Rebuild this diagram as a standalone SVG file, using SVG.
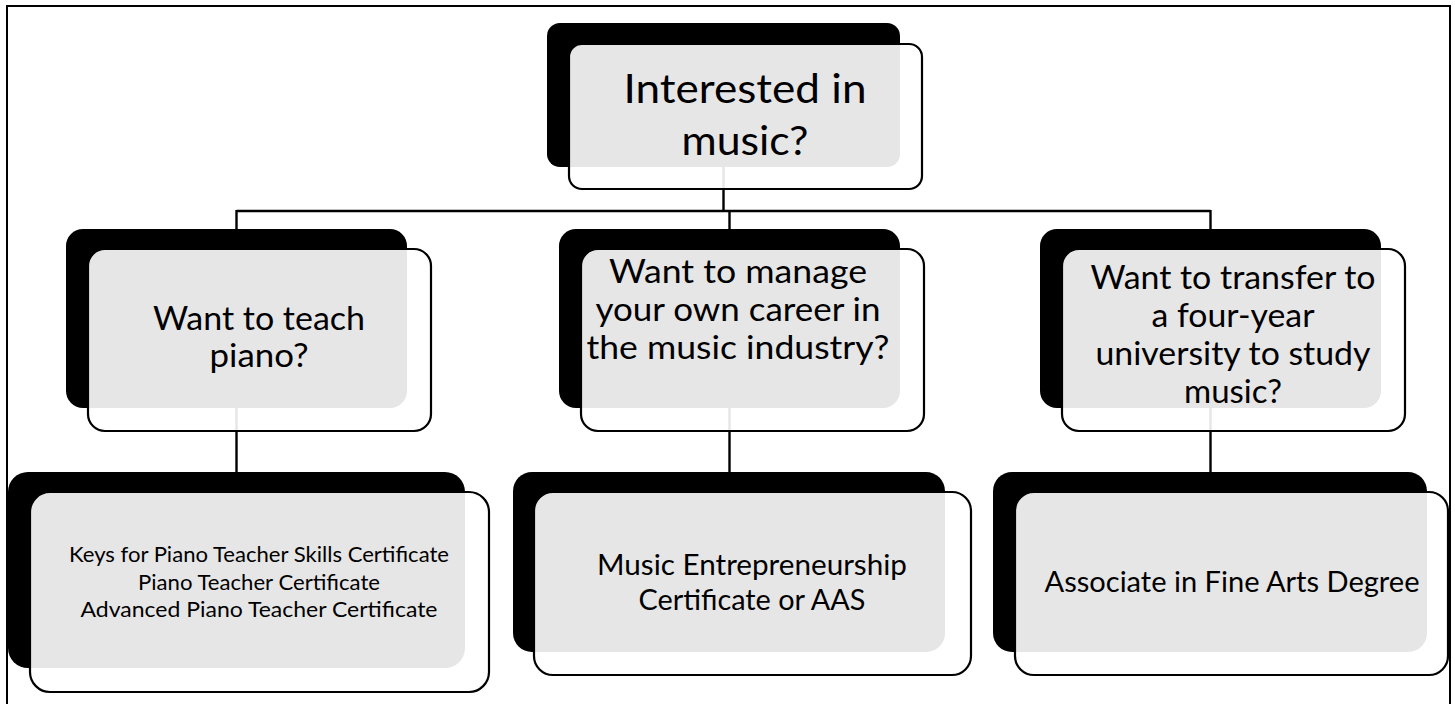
<svg xmlns="http://www.w3.org/2000/svg" width="1455" height="704" viewBox="0 0 1455 704">
  <style>
    .shadow { fill: #000000; }
    .card { fill: #ffffff; fill-opacity: 0.9; stroke: #000000; stroke-width: 2.2; }
    .link { fill: none; stroke: #000000; stroke-width: 2.4; }
    .frame { fill: none; stroke: #000000; stroke-width: 2; }
    text { font-family: Lato, "Open Sans", "Noto Sans", sans-serif; fill: #000000; text-anchor: middle; }
    .t1 { font-size: 41px; }
    .t2 { font-size: 33px; }
    .t3 { font-size: 29px; }
    .t4 { font-size: 21.5px; }
  </style>

  <rect x="0" y="0" width="1455" height="704" fill="#ffffff"/>
  <path class="frame" d="M7,704 V6 H1450 V704"/>

  <!-- connectors sit underneath the translucent cards -->
  <g id="connectors">
    <path class="link" d="M723.5,167 V211"/>
    <path class="link" d="M236.5,211 H1210.5"/>
    <path class="link" d="M236.5,210 V230"/>
    <path class="link" d="M729.5,210 V230"/>
    <path class="link" d="M1210.5,210 V230"/>
    <path class="link" d="M236.5,408 V473"/>
    <path class="link" d="M729.5,408 V473"/>
    <path class="link" d="M1210.5,408 V473"/>
  </g>

  <g id="node-music">
    <rect class="shadow" x="547" y="23" width="353" height="144" rx="13"/>
    <rect class="card" x="569" y="44" width="353" height="145" rx="13"/>
    <text class="t1" x="745" y="103" textLength="243" lengthAdjust="spacingAndGlyphs">Interested in</text>
    <text class="t1" x="745" y="155" textLength="127" lengthAdjust="spacingAndGlyphs">music?</text>
  </g>

  <g id="node-teach">
    <rect class="shadow" x="66" y="229" width="341" height="179" rx="17"/>
    <rect class="card" x="88" y="249" width="343" height="182" rx="17"/>
    <text class="t2" x="259" y="330" textLength="212" lengthAdjust="spacingAndGlyphs">Want to teach</text>
    <text class="t2" x="259" y="367" textLength="99" lengthAdjust="spacingAndGlyphs">piano?</text>
  </g>

  <g id="node-manage">
    <rect class="shadow" x="559" y="229" width="341" height="179" rx="17"/>
    <rect class="card" x="581" y="249" width="343" height="182" rx="17"/>
    <text class="t2" x="738" y="283" textLength="258" lengthAdjust="spacingAndGlyphs">Want to manage</text>
    <text class="t2" x="738" y="321" textLength="285" lengthAdjust="spacingAndGlyphs">your own career in</text>
    <text class="t2" x="738" y="359" textLength="303" lengthAdjust="spacingAndGlyphs">the music industry?</text>
  </g>

  <g id="node-transfer">
    <rect class="shadow" x="1040" y="229" width="341" height="179" rx="17"/>
    <rect class="card" x="1062" y="249" width="343" height="182" rx="17"/>
    <text class="t2" x="1233" y="289" textLength="285" lengthAdjust="spacingAndGlyphs">Want to transfer to</text>
    <text class="t2" x="1233" y="327" textLength="163" lengthAdjust="spacingAndGlyphs">a four-year</text>
    <text class="t2" x="1233" y="365" textLength="275" lengthAdjust="spacingAndGlyphs">university to study</text>
    <text class="t2" x="1233" y="403" textLength="98" lengthAdjust="spacingAndGlyphs">music?</text>
  </g>

  <g id="node-piano-certs">
    <rect class="shadow" x="8" y="472" width="457" height="196" rx="20"/>
    <rect class="card" x="30" y="492" width="459" height="200" rx="20"/>
    <text class="t4" x="259" y="562" textLength="380" lengthAdjust="spacingAndGlyphs">Keys for Piano Teacher Skills Certificate</text>
    <text class="t4" x="259" y="590" textLength="242" lengthAdjust="spacingAndGlyphs">Piano Teacher Certificate</text>
    <text class="t4" x="259" y="617" textLength="357" lengthAdjust="spacingAndGlyphs">Advanced Piano Teacher Certificate</text>
  </g>

  <g id="node-entrepreneurship">
    <rect class="shadow" x="513" y="472" width="432" height="180" rx="19"/>
    <rect class="card" x="534" y="492" width="437" height="183" rx="19"/>
    <text class="t3" x="752" y="575" textLength="310" lengthAdjust="spacingAndGlyphs">Music Entrepreneurship</text>
    <text class="t3" x="752" y="610" textLength="227" lengthAdjust="spacingAndGlyphs">Certificate or AAS</text>
  </g>

  <g id="node-afa">
    <rect class="shadow" x="993" y="472" width="434" height="180" rx="19"/>
    <rect class="card" x="1015" y="492" width="433" height="183" rx="19"/>
    <text class="t3" x="1232" y="592" textLength="375" lengthAdjust="spacingAndGlyphs">Associate in Fine Arts Degree</text>
  </g>
</svg>
